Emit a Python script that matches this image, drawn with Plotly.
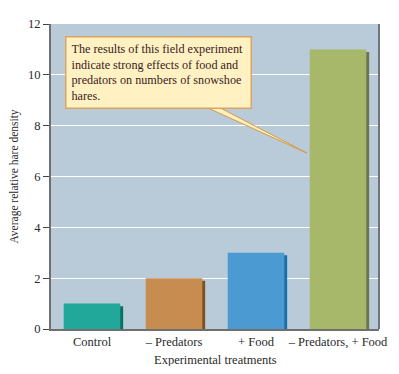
import plotly.graph_objects as go

categories = ["Control", "– Predators", "+ Food", "– Predators, + Food"]
values = [1, 2, 3, 11]
bar_colors = ["#21a89a", "#c68c50", "#4b9bd2", "#a8b86a"]
shadow_colors = ["#0b6f63", "#7c5222", "#1a6fa8", "#6b7453"]
y_ticks = [0, 2, 4, 6, 8, 10, 12]

font_family = "Liberation Serif, Times New Roman, serif"
bar_w = 0.69

fig = go.Figure()
# shadow (3D edge)
fig.add_trace(go.Bar(
    x=categories, y=[v - 0.1 for v in values],
    marker=dict(color=shadow_colors, line=dict(width=0)),
    width=bar_w, offset=-bar_w / 2 + 0.035, hoverinfo="skip", showlegend=False,
))
fig.add_trace(go.Bar(
    x=categories, y=values,
    marker=dict(color=bar_colors, line=dict(width=0)),
    width=bar_w, offset=-bar_w / 2, showlegend=False,
))

fig.update_layout(
    width=383, height=358,
    margin=dict(l=43, r=12, t=16, b=37, autoexpand=False),
    paper_bgcolor="white",
    plot_bgcolor="#b9cad9",
    barmode="overlay",
    font=dict(family=font_family, size=12, color="#2a2a2a"),
    xaxis=dict(
        showgrid=False, showline=True, linecolor="#6f6f6f", linewidth=1.5,
        ticks="", tickfont=dict(size=12.5, color="#2a2a2a"),
        mirror=False, automargin=False,
    ),
    yaxis=dict(
        range=[0, 12], tickvals=y_ticks, showgrid=True, gridcolor="white", gridwidth=1.2,
        showline=True, linecolor="#6f6f6f", linewidth=2,
        ticks="outside", ticklen=6, tickcolor="#444", tickwidth=1,
        tickfont=dict(size=12.5, color="#2a2a2a"),
        title=dict(text="Average relative hare density", font=dict(size=11.5), standoff=12),
        zeroline=False, automargin=False,
    ),
    shapes=[
        # right border of plot
        dict(type="line", xref="paper", yref="paper", x0=1, x1=1, y0=0, y1=1,
             line=dict(color="#6f7480", width=2)),
        # callout pointer wedge
        dict(type="path", xref="paper", yref="paper",
             path="M 0.437 0.745 L 0.780 0.577 L 0.480 0.745 Z",
             fillcolor="#fdefc0", line=dict(color="#d49a45", width=1)),
    ],
    annotations=[
        dict(xref="paper", yref="paper", x=0.043, y=0.961, xanchor="left", yanchor="top",
             align="left", valign="middle", showarrow=False,
             text="The results of this field experiment<br>indicate strong effects of food and<br>predators on numbers of snowshoe<br>hares.",
             font=dict(family=font_family, size=12.2, color="#3a1a24"),
             bgcolor="#fff1c2", bordercolor="#d9a560", borderwidth=1.5, borderpad=5,
             width=174, height=60),
        # x-axis title
        dict(xref="paper", yref="paper", x=0.5, y=0, xanchor="center", yanchor="top",
             yshift=-22, showarrow=False, text="Experimental treatments",
             font=dict(family=font_family, size=12.5, color="#2a2a2a")),
    ],
)

fig.write_html("out.html")
